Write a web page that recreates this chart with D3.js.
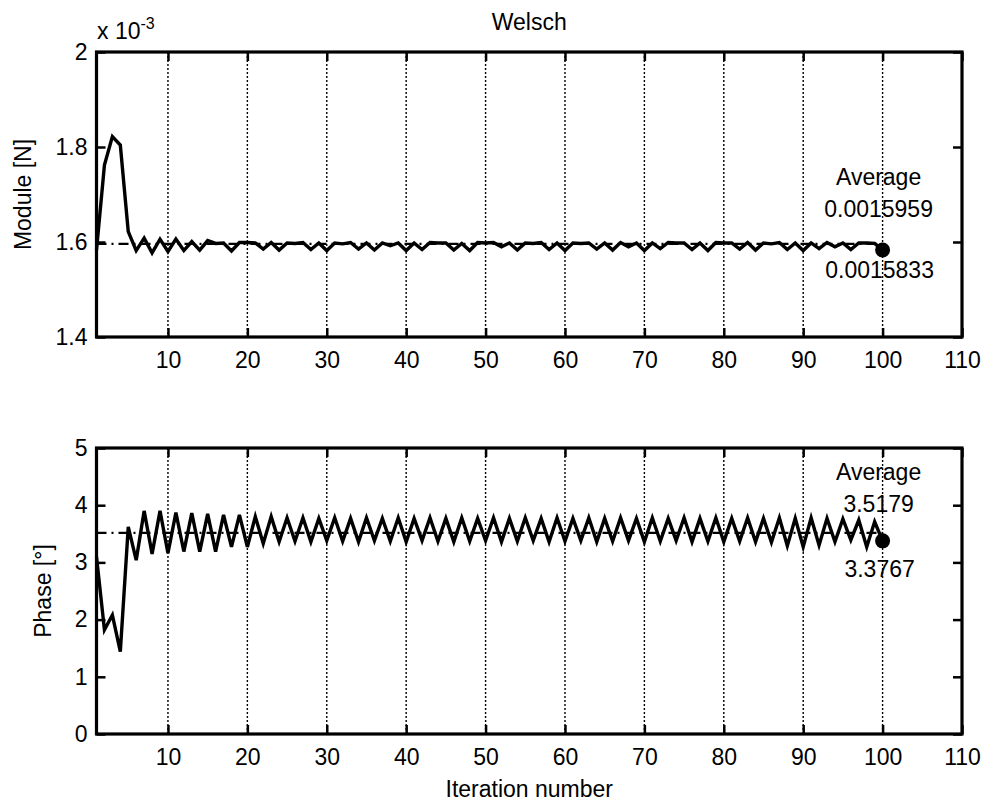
<!DOCTYPE html>
<html>
<head>
<meta charset="utf-8">
<script src="https://cdn.jsdelivr.net/npm/d3@7"></script>
<style>
  html, body { margin: 0; padding: 0; background: #fff; }
  svg { display: block; font-family: "Liberation Sans", Arial, Helvetica, sans-serif; }
</style>
</head>
<body>
<svg id="chart" width="990" height="807"></svg>
<script>
// ---------- data ----------
const iterations = d3.range(1, 101);
// Module values in units of 1e-3 N
const moduleValues = [
  1.583, 1.762, 1.822, 1.804, 1.622, 1.582, 1.608, 1.577, 1.606, 1.580,
  1.606, 1.582, 1.601, 1.583, 1.603, 1.597, 1.598, 1.581, 1.599, 1.599,
  1.598, 1.585, 1.599, 1.583, 1.598, 1.597, 1.599, 1.584, 1.598, 1.582,
  1.598, 1.596, 1.599, 1.585, 1.598, 1.583, 1.598, 1.592, 1.598, 1.582,
  1.598, 1.584, 1.599, 1.598, 1.598, 1.583, 1.597, 1.582, 1.599, 1.598,
  1.599, 1.590, 1.598, 1.583, 1.598, 1.597, 1.599, 1.584, 1.598, 1.582,
  1.598, 1.597, 1.598, 1.585, 1.598, 1.583, 1.599, 1.590, 1.598, 1.582,
  1.598, 1.586, 1.599, 1.598, 1.598, 1.584, 1.598, 1.582, 1.599, 1.598,
  1.598, 1.585, 1.599, 1.583, 1.598, 1.596, 1.599, 1.584, 1.598, 1.582,
  1.598, 1.586, 1.599, 1.590, 1.598, 1.584, 1.598, 1.598, 1.597, 1.5833
];
const phaseValues = [
  3.10, 1.82, 2.08, 1.44, 3.62, 3.04, 3.90, 3.15, 3.90, 3.16,
  3.87, 3.19, 3.86, 3.19, 3.85, 3.19, 3.83, 3.27, 3.83, 3.27,
  3.80, 3.33, 3.80, 3.36, 3.78, 3.37, 3.78, 3.36, 3.77, 3.38,
  3.78, 3.37, 3.77, 3.36, 3.78, 3.38, 3.77, 3.37, 3.78, 3.36,
  3.77, 3.38, 3.78, 3.37, 3.77, 3.36, 3.78, 3.37, 3.77, 3.38,
  3.78, 3.36, 3.77, 3.37, 3.78, 3.38, 3.77, 3.36, 3.78, 3.37,
  3.77, 3.38, 3.78, 3.36, 3.77, 3.37, 3.78, 3.38, 3.77, 3.36,
  3.78, 3.37, 3.77, 3.38, 3.78, 3.36, 3.77, 3.37, 3.78, 3.36,
  3.77, 3.37, 3.78, 3.36, 3.77, 3.35, 3.78, 3.29, 3.77, 3.27,
  3.78, 3.30, 3.77, 3.36, 3.76, 3.39, 3.74, 3.27, 3.71, 3.3767
];
const moduleAverage = 1.5959;   // x 1e-3
const phaseAverage = 3.5179;
const moduleAvgLabel = "0.0015959";
const moduleLastLabel = "0.0015833";
const phaseAvgLabel = "3.5179";
const phaseLastLabel = "3.3767";
const xTicks = [10, 20, 30, 40, 50, 60, 70, 80, 90, 100, 110];
const moduleTicks = [1.4, 1.6, 1.8, 2];
const phaseTicks = [0, 1, 2, 3, 4, 5];

// ---------- layout ----------
const svg = d3.select("#chart");
svg.append("rect").attr("width", 990).attr("height", 807).attr("fill", "#fff");
const FS = 23;
const L = 96.5, R = 962;
const x = d3.scaleLinear().domain([1, 110]).range([L, R]);

function panel(cfg) {
  const y = d3.scaleLinear().domain(cfg.domain).range([cfg.bottom, cfg.top]);
  const g = svg.append("g");

  // grid (x only, dotted)
  g.append("g").selectAll("line").data(xTicks.filter(t => t < 110)).join("line")
    .attr("x1", d => x(d)).attr("x2", d => x(d))
    .attr("y1", cfg.top).attr("y2", cfg.bottom)
    .attr("stroke", "#000").attr("stroke-width", 1.4).attr("stroke-dasharray", "2,2");

  // axes
  const ax = g.append("g").attr("transform", `translate(0,${cfg.bottom})`)
    .call(d3.axisBottom(x).tickValues(xTicks).tickSizeInner(-9).tickSizeOuter(0).tickPadding(15).tickFormat(d3.format("d")));
  const axTop = g.append("g").attr("transform", `translate(0,${cfg.top})`)
    .call(d3.axisTop(x).tickValues(xTicks).tickSizeInner(-9).tickSizeOuter(0).tickFormat(""));
  const ay = g.append("g").attr("transform", `translate(${L},0)`)
    .call(d3.axisLeft(y).tickValues(cfg.ticks).tickSizeInner(-9).tickSizeOuter(0).tickPadding(9).tickFormat(d => String(d)));
  const ayR = g.append("g").attr("transform", `translate(${R},0)`)
    .call(d3.axisRight(y).tickValues(cfg.ticks).tickSizeInner(-9).tickSizeOuter(0).tickFormat(""));
  [ax, axTop, ay, ayR].forEach(a => {
    a.select(".domain").remove();
    a.selectAll(".tick line").attr("stroke", "#000").attr("stroke-width", 2.5);
    a.selectAll("text").attr("font-size", FS).attr("fill", "#000")
      .attr("font-family", "'Liberation Sans', Arial, sans-serif");
  });

  // average dash-dot line
  g.append("line")
    .attr("x1", x(1)).attr("x2", x(100))
    .attr("y1", y(cfg.avg)).attr("y2", y(cfg.avg))
    .attr("stroke", "#000").attr("stroke-width", 2.2).attr("stroke-dasharray", "10,5,2,5");

  // data line
  const line = d3.line().x((d, i) => x(iterations[i])).y(d => y(d));
  g.append("path").datum(cfg.values).attr("d", line)
    .attr("fill", "none").attr("stroke", "#000").attr("stroke-width", 3.4)
    .attr("stroke-linejoin", "miter").attr("stroke-miterlimit", 4);

  // last-point marker
  const last = cfg.values[cfg.values.length - 1];
  g.append("circle").attr("cx", x(100)).attr("cy", y(last)).attr("r", 7.5).attr("fill", "#000");

  // box
  g.append("rect").attr("x", L).attr("y", cfg.top).attr("width", R - L).attr("height", cfg.bottom - cfg.top)
    .attr("fill", "none").attr("stroke", "#000").attr("stroke-width", 3.2);

  // annotations
  const tx = x(100) - 4;
  const ann = g.append("g").attr("font-size", FS).attr("text-anchor", "middle").attr("fill", "#000");
  ann.append("text").attr("x", tx).attr("y", y(cfg.avg) + cfg.avgOff - 32).text("Average");
  ann.append("text").attr("x", tx).attr("y", y(cfg.avg) + cfg.avgOff).text(cfg.avgLabel);
  ann.append("text").attr("x", tx + 1).attr("y", y(last) + cfg.lastOff).text(cfg.lastLabel);

  // y label
  g.append("text").attr("transform", `translate(${cfg.ylabX},${(cfg.top + cfg.bottom) / 2}) rotate(-90)`)
    .attr("text-anchor", "middle").attr("font-size", FS).text(cfg.ylabel);
  return y;
}

panel({ domain: [1.4, 2], top: 52, bottom: 337, ticks: moduleTicks, values: moduleValues,
  avg: moduleAverage, avgLabel: moduleAvgLabel, lastLabel: moduleLastLabel,
  avgOff: -27, lastOff: 28, ylabel: "Module [N]", ylabX: 31 });
panel({ domain: [0, 5], top: 448, bottom: 734, ticks: phaseTicks, values: phaseValues,
  avg: phaseAverage, avgLabel: phaseAvgLabel, lastLabel: phaseLastLabel,
  avgOff: -21, lastOff: 36, ylabel: "Phase [°]", ylabX: 51 });

// title, exponent, x label
svg.append("text").attr("x", (L + R) / 2).attr("y", 30).attr("text-anchor", "middle")
  .attr("font-size", FS).text("Welsch");
const ex = svg.append("text").attr("x", 97).attr("y", 39).attr("font-size", FS);
ex.append("tspan").text("x 10");
ex.append("tspan").attr("dy", -10).attr("font-size", 16).text("-3");
svg.append("text").attr("x", (L + R) / 2).attr("y", 797).attr("text-anchor", "middle")
  .attr("font-size", FS).text("Iteration number");
</script>
</body>
</html>
